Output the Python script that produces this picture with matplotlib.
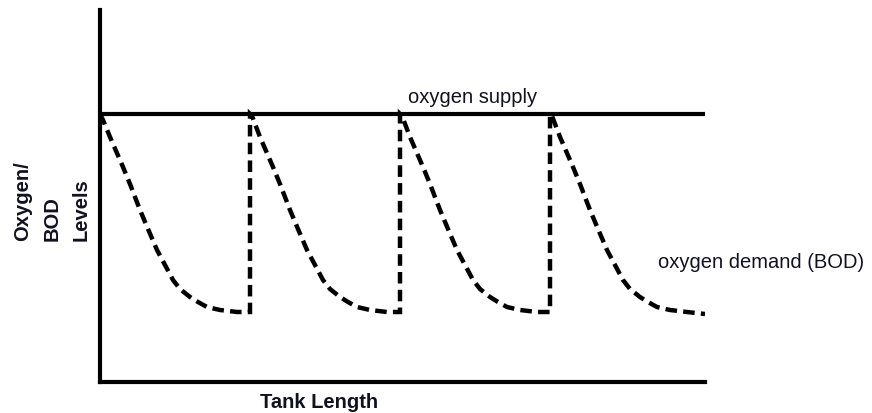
import matplotlib
matplotlib.use("Agg")
import matplotlib.pyplot as plt

plt.rcParams['font.family'] = ['Liberation Sans', 'DejaVu Sans']

# Schematic values (pixel-like units)
supply_x = [0, 605]
supply_y = [268, 268]

demand_x = [0, 3, 10, 23, 30, 40, 48, 57, 65, 73, 80, 90, 98, 107, 120, 137, 150,
            150, 152, 160, 173, 180, 190, 198, 207, 215, 223, 230, 240, 248, 257, 270, 287, 300,
            300, 302, 310, 323, 330, 340, 348, 357, 365, 373, 380, 390, 398, 407, 420, 437, 450,
            450, 452, 460, 473, 480, 490, 498, 507, 515, 523, 530, 540, 548, 557, 570, 587, 605]
demand_y = [268, 262, 245, 215, 198, 172, 153, 132, 117, 102, 93, 85, 80, 75, 72, 70, 70,
            268, 266, 245, 215, 198, 172, 153, 132, 117, 102, 93, 85, 80, 75, 72, 70, 70,
            268, 266, 245, 215, 198, 172, 153, 132, 117, 102, 93, 85, 80, 75, 72, 70, 70,
            268, 266, 245, 215, 198, 172, 153, 132, 117, 102, 93, 85, 80, 75, 72, 70, 68]

supply_label = "oxygen supply"
demand_label = "oxygen demand (BOD)"
x_label = "Tank Length"
y_label = "Oxygen/\nBOD\nLevels"

W, H = 872, 413
fig = plt.figure(figsize=(W / 100, H / 100), dpi=100)
ax = fig.add_axes([100 / W, (H - 382) / H, 605 / W, 372 / H])
ax.set_xlim(0, 605)
ax.set_ylim(0, 372)

ax.plot(supply_x, supply_y, color='black', lw=3, solid_capstyle='butt')
ax.plot(demand_x, demand_y, color='black', lw=3.2, linestyle=(0, (2.6, 1.4)),
        dash_capstyle='butt', dash_joinstyle='miter')

for s in ['top', 'right']:
    ax.spines[s].set_visible(False)
for s in ['left', 'bottom']:
    ax.spines[s].set_linewidth(3)
    ax.spines[s].set_color('black')
ax.set_xticks([])
ax.set_yticks([])
ax.patch.set_alpha(0)

fig.text(473 / W, 1 - 103 / H, supply_label, ha='center', va='baseline', fontsize=14.5, color='#111122')
fig.text(658 / W, 1 - 268 / H, demand_label, ha='left', va='baseline', fontsize=14.5, color='#111122')
fig.text(319 / W, 1 - 408 / H, x_label, ha='center', va='baseline', fontsize=14.5,
         fontweight='bold', color='#111122')
fig.text(52 / W, 1 - 201 / H, y_label, ha='center', va='center', rotation=90,
         multialignment='left', fontsize=14.5, fontweight='bold', color='#111122',
         linespacing=1.7)

fig.savefig("out.png", dpi=100)
